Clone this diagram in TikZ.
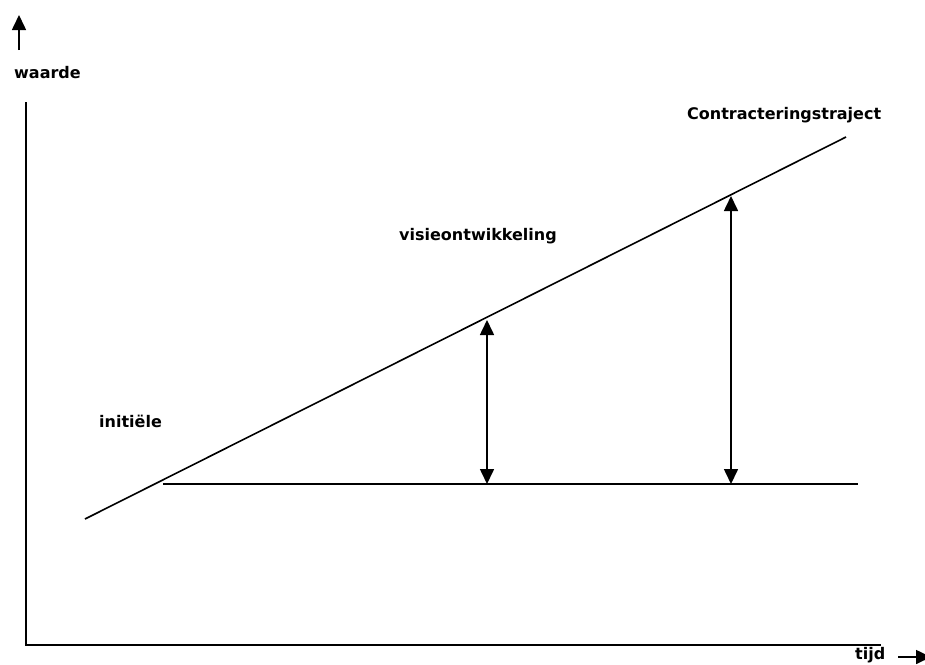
\documentclass[tikz,border=0pt]{standalone}
\usepackage{fontspec}
\setmainfont{DejaVu Sans}
\usetikzlibrary{arrows.meta}
\tikzset{
  lbl/.style={font=\bfseries\fontsize{16}{19}\selectfont, inner sep=0pt, anchor=base west},
  ln/.style={line width=1.6pt, line cap=butt},
  dbl/.style={ln, {Triangle[length=15pt,width=14pt]}-{Triangle[length=15pt,width=14pt]}},
  sgl/.style={ln, -{Triangle[length=15pt,width=14pt]}}
}
\begin{document}
\begin{tikzpicture}[x=1pt,y=-1pt]
\useasboundingbox (0,0) rectangle (925,664);
\clip (0,0) rectangle (925,664);
% axes
\coordinate (ytop) at (26,102);
\coordinate (orig) at (26,645);
\coordinate (xend) at (881,645);
\draw[ln] (ytop) -- (orig) -- (xend);
% axis arrows
\coordinate (wa0) at (19,50);
\coordinate (wa1) at (19,15);
\draw[sgl] (wa0) -- (wa1);
\coordinate (ta0) at (898,657);
\coordinate (ta1) at (931,657);
\draw[sgl] (ta0) -- (ta1);
% diagonal and base line
\coordinate (d0) at (85,519);
\coordinate (d1) at (846,137);
\draw[ln] (d0) -- (d1);
\coordinate (h0) at (163,484);
\coordinate (h1) at (858,484);
\draw[ln] (h0) -- (h1);
% double arrows
\coordinate (a1b) at (487,484);
\coordinate (a1t) at (487,320);
\draw[dbl] (a1b) -- (a1t);
\coordinate (a2b) at (731,484);
\coordinate (a2t) at (731,196);
\draw[dbl] (a2b) -- (a2t);
% labels
\node[lbl] (waarde) at (14,78) {waarde};
\node[lbl] (contr) at (687,119) {Contracteringstraject};
\node[lbl] (visie) at (399,240) {visieontwikkeling};
\node[lbl] (init) at (99,427) {initiële};
\node[lbl] (tijd) at (855,659) {tijd};
\end{tikzpicture}
\end{document}
